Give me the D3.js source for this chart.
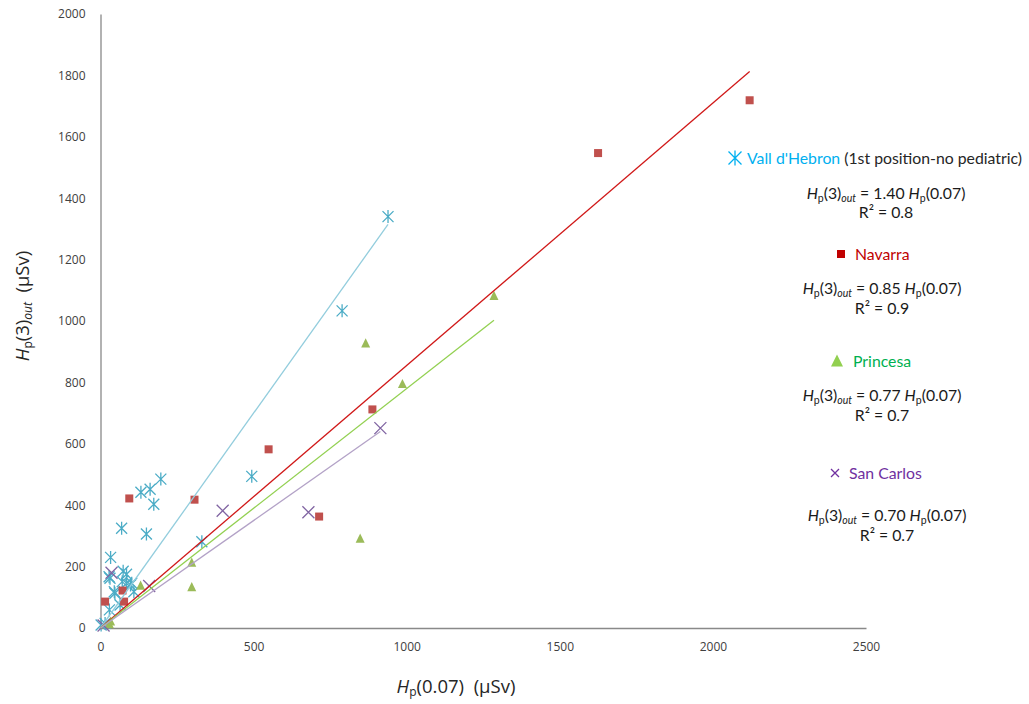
<!DOCTYPE html>
<html>
<head>
<meta charset="utf-8">
<script src="https://cdn.jsdelivr.net/npm/d3@7"></script>
<style>
  html, body { margin: 0; padding: 0; background: #fff; }
  svg { display: block; }
  text { font-family: "Open Sans", "Liberation Sans", sans-serif; white-space: pre; }
</style>
</head>
<body>
<svg id="chart" width="1029" height="704"></svg>
<script>
// ---- data ----
const xTicks = [0, 500, 1000, 1500, 2000, 2500];
const yTicks = [0, 200, 400, 600, 800, 1000, 1200, 1400, 1600, 1800, 2000];

const vallX = [2, 15, 29, 64, 45, 47, 109, 98, 71, 102, 85, 28, 31, 74, 85, 33, 69, 150, 132, 162, 197, 174, 331, 494, 789, 939];
const vallY = [10, 15, 59, 75, 118, 113, 118, 140, 151, 146, 146, 167, 162, 185, 175, 230, 325, 306, 442, 452, 485, 403, 281, 494, 1033, 1340];

const navX = [15, 72, 77, 94, 307, 549, 714, 888, 1625, 2120];
const navY = [86, 122, 86, 422, 418, 582, 363, 712, 1547, 1719];

const priX = [29, 33, 131, 298, 298, 848, 866, 986, 1285];
const priY = [12, 21, 138, 213, 133, 291, 927, 795, 1082];

const scX = [10, 36, 159, 399, 679, 914];
const scY = [8, 180, 137, 382, 377, 651];

const seriesNames = ["Vall d'Hebron", "Navarra", "Princesa", "San Carlos"];
const trendSlopes = [1.40, 0.855, 0.78, 0.70];
const eqSlopeLabels = ["1.40", "0.85", "0.77", "0.70"];
const r2Labels = ["0.8", "0.9", "0.7", "0.7"];

// ---- setup ----
const svg = d3.select("#chart");
const x = d3.scaleLinear().domain([0, 2500]).range([100.5, 866]);
const y = d3.scaleLinear().domain([0, 2000]).range([628, 14]);

const markerColors = ["#4bacc6", "#c0504d", "#9bbb59", "#8064a2"];
const lineColors = ["#93cddd", "#d01818", "#92d050", "#b3a2c7"];
const legendColors = ["#00b0f0", "#c00000", "#00b050", "#7030a0"];
const legendSymColors = ["#00b0f0", "#c00000", "#92d050", "#7030a0"];

const series = [
  {xs: vallX, ys: vallY, type: "star"},
  {xs: navX, ys: navY, type: "square"},
  {xs: priX, ys: priY, type: "triangle"},
  {xs: scX, ys: scY, type: "x"}
];

// ---- axes ----
const xAxis = d3.axisBottom(x).tickValues(xTicks).tickSize(0).tickPadding(14).tickFormat(d3.format("d"));
const yAxis = d3.axisLeft(y).tickValues(yTicks).tickSize(0).tickPadding(15).tickFormat(d3.format("d"));

const gx = svg.append("g").attr("transform", `translate(0,${y(0)})`).call(xAxis);
const gy = svg.append("g").attr("transform", `translate(${x(0)},0)`).call(yAxis);
[gx, gy].forEach(g => {
  g.select(".domain").attr("stroke", "#898989").attr("stroke-width", 1.3);
  g.selectAll("text").attr("fill", "#404040").style("font-size", "12px")
    .style("font-family", "'Open Sans', sans-serif");
});

// ---- markers ----
function drawMarker(g, type, cx, cy, color, s) {
  if (type === "star") {
    const r = s / 2;
    g.append("path")
      .attr("d", `M${cx - r},${cy - r}L${cx + r},${cy + r}M${cx - r},${cy + r}L${cx + r},${cy - r}M${cx},${cy - r - 1}L${cx},${cy + r + 1}`)
      .attr("stroke", color).attr("stroke-width", 1.3).attr("fill", "none");
  } else if (type === "x") {
    const r = s / 2;
    g.append("path")
      .attr("d", `M${cx - r},${cy - r}L${cx + r},${cy + r}M${cx - r},${cy + r}L${cx + r},${cy - r}`)
      .attr("stroke", color).attr("stroke-width", 1.3).attr("fill", "none");
  } else if (type === "square") {
    g.append("rect").attr("x", cx - s / 2).attr("y", cy - s / 2)
      .attr("width", s).attr("height", s).attr("fill", color);
  } else if (type === "triangle") {
    const h = s * 0.9;
    g.append("path")
      .attr("d", `M${cx},${cy - h / 2 - 1}L${cx + s / 2},${cy + h / 2}L${cx - s / 2},${cy + h / 2}Z`)
      .attr("fill", color);
  }
}

const markerSize = {star: 11, square: 8, triangle: 9, x: 12};
const gm = svg.append("g");
series.forEach((s, i) => {
  s.xs.forEach((xv, j) => {
    drawMarker(gm, s.type, x(xv), y(s.ys[j]), markerColors[i], markerSize[s.type]);
  });
});

// ---- trend lines (through origin) ----
const gl = svg.append("g");
series.forEach((s, i) => {
  const xmax = d3.max(s.xs);
  gl.append("line")
    .attr("x1", x(0)).attr("y1", y(0))
    .attr("x2", x(xmax)).attr("y2", y(trendSlopes[i] * xmax))
    .attr("stroke", lineColors[i]).attr("stroke-width", 1.3);
});

// ---- axis titles ----
svg.append("text")
  .attr("x", 456).attr("y", 693).attr("text-anchor", "middle")
  .style("font-size", "18.5px").attr("fill", "#262626")
  .call(t => {
    t.append("tspan").style("font-style", "italic").text("H");
    t.append("tspan").attr("baseline-shift", "-25%").style("font-size", "12px").text("p");
    t.append("tspan").text("(0.07)  (µSv)");
  });

svg.append("text")
  .attr("transform", "translate(29,306) rotate(-90)")
  .attr("text-anchor", "middle")
  .style("font-size", "18.5px").attr("fill", "#262626")
  .call(t => {
    t.append("tspan").style("font-style", "italic").text("H");
    t.append("tspan").attr("baseline-shift", "-25%").style("font-size", "12px").text("p");
    t.append("tspan").text("(3)");
    t.append("tspan").attr("baseline-shift", "-25%").style("font-size", "12px").style("font-style", "italic").text("out");
    t.append("tspan").text("  (µSv)");
  });

// ---- legend / equations ----
const legFont = "'Lato', sans-serif";
const legendPos = [
  {sx: 735, sy: 158, tx: 747, ty: 164, eqY: 199, r2Y: 218},
  {sx: 841, sy: 254, tx: 855, ty: 260, eqY: 294, r2Y: 314},
  {sx: 837, sy: 361, tx: 853, ty: 367, eqY: 401, r2Y: 421},
  {sx: 835, sy: 473, tx: 849, ty: 479, eqY: 521, r2Y: 541}
];
const legSymSize = {star: 13, square: 8, triangle: 12, x: 8};
const eqCenters = [886, 882, 882, 887];

seriesNames.forEach((name, i) => {
  const p = legendPos[i];
  drawMarker(svg, series[i].type, p.sx, p.sy, legendSymColors[i], legSymSize[series[i].type]);
  const t = svg.append("text").attr("x", p.tx).attr("y", p.ty)
    .style("font-size", "15.8px").style("font-family", legFont);
  t.append("tspan").attr("fill", legendColors[i]).text(name);
  if (i === 0) t.append("tspan").attr("fill", "#262626").text(" (1st position-no pediatric)");

  const e = svg.append("text").attr("x", eqCenters[i]).attr("y", p.eqY)
    .attr("text-anchor", "middle").attr("fill", "#1a1a1a")
    .style("font-size", "15.8px").style("font-family", legFont);
  e.append("tspan").style("font-style", "italic").text("H");
  e.append("tspan").attr("baseline-shift", "-25%").style("font-size", "10.5px").text("p");
  e.append("tspan").text("(3)");
  e.append("tspan").attr("baseline-shift", "-25%").style("font-size", "10.5px").style("font-style", "italic").text("out");
  e.append("tspan").text(" = " + eqSlopeLabels[i] + " ");
  e.append("tspan").style("font-style", "italic").text("H");
  e.append("tspan").attr("baseline-shift", "-25%").style("font-size", "10.5px").text("p");
  e.append("tspan").text("(0.07)");

  svg.append("text").attr("x", eqCenters[i]).attr("y", p.r2Y)
    .attr("text-anchor", "middle").attr("fill", "#1a1a1a")
    .style("font-size", "15.8px").style("font-family", legFont)
    .text("R² = " + r2Labels[i]);
});
</script>
</body>
</html>
